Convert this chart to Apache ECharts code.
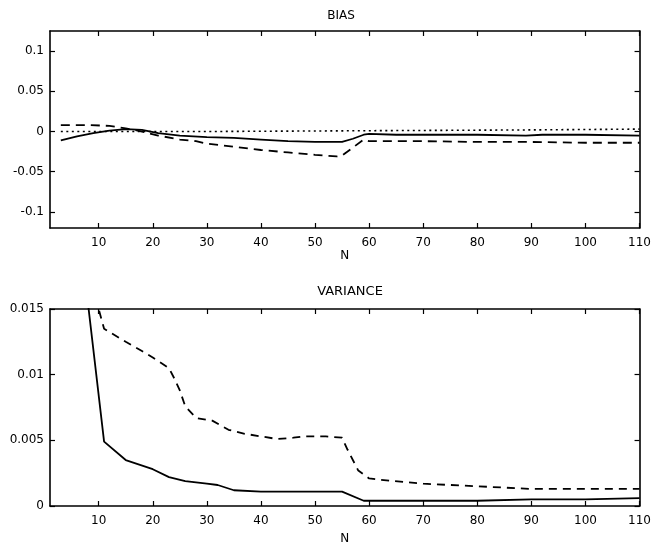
<!DOCTYPE html>
<html>
<head>
<meta charset="utf-8">
<script src="https://cdn.jsdelivr.net/npm/echarts@6/dist/echarts.min.js"></script>
<style>
html,body{margin:0;padding:0;background:#fff;}
#chart{width:654px;height:547px;}
</style>
</head>
<body>
<div id="chart"></div>
<script>
// ---- data ----
var xTicks = [10, 20, 30, 40, 50, 60, 70, 80, 90, 100, 110];
var biasTicks = [-0.1, -0.05, 0, 0.05, 0.1];
var biasTickLabels = ['-0.1', '-0.05', '0', '0.05', '0.1'];
var varTicks = [0, 0.005, 0.01, 0.015];
var varTickLabels = ['0', '0.005', '0.01', '0.015'];

var biasSolidN = [3, 6, 9, 12, 15, 18, 21, 25, 30, 35, 40, 45, 50, 55, 57, 59, 60, 65, 70, 80, 89, 92, 100, 110];
var biasSolid  = [-0.011, -0.006, -0.002, 0.001, 0.003, 0.002, -0.002, -0.005, -0.007, -0.008, -0.010, -0.012, -0.013, -0.013, -0.009, -0.004, -0.003, -0.004, -0.004, -0.004, -0.005, -0.004, -0.004, -0.005];

var biasDashN = [3, 8, 12, 15, 18, 21, 25, 28, 30, 35, 40, 45, 50, 54, 55, 57, 59, 60, 70, 80, 90, 100, 110];
var biasDash  = [0.008, 0.008, 0.007, 0.004, 0.000, -0.005, -0.010, -0.012, -0.015, -0.019, -0.023, -0.026, -0.029, -0.031, -0.030, -0.020, -0.010, -0.012, -0.012, -0.013, -0.013, -0.014, -0.014];

var biasDotN = [3, 30, 60, 90, 110];
var biasDot  = [0.000, 0.000, 0.001, 0.002, 0.003];

var varSolidN = [3, 6, 8, 11, 15, 20, 23, 26, 30, 32, 35, 40, 45, 50, 55, 59, 60, 70, 80, 90, 100, 110];
var varSolid  = [0.040, 0.026, 0.0155, 0.0049, 0.0035, 0.0028, 0.0022, 0.0019, 0.0017, 0.0016, 0.0012, 0.0011, 0.0011, 0.0011, 0.0011, 0.0004, 0.0004, 0.0004, 0.0004, 0.0005, 0.0005, 0.0006];

var varDashN = [3, 6, 8, 10, 11, 15, 18, 20, 23, 24, 25, 26, 28, 31, 34, 37, 40, 43, 46, 48, 52, 55, 56, 58, 60, 62, 70, 80, 90, 100, 110];
var varDash  = [0.024, 0.020, 0.017, 0.0150, 0.0135, 0.0125, 0.0118, 0.0113, 0.0105, 0.0097, 0.0088, 0.0076, 0.0067, 0.0065, 0.0058, 0.0055, 0.0053, 0.0051, 0.0052, 0.0053, 0.0053, 0.0052, 0.0043, 0.0027, 0.0021, 0.0020, 0.0017, 0.0015, 0.0013, 0.0013, 0.0013];

function zip(a, b) { return a.map(function (v, i) { return [v, b[i]]; }); }

var FONT = 'DejaVu Sans';
var INK = '#000';

function xAx(gi, pos, withLabel, nameGap) {
  return {
    type: 'value', gridIndex: gi, position: pos, min: 1, max: 110,
    name: withLabel ? 'N' : '', nameLocation: 'middle', nameGap: nameGap || 27,
    nameTextStyle: { fontFamily: FONT, fontSize: 12, color: INK },
    axisLine: { show: true, onZero: false, lineStyle: { color: INK, width: 1.6 } },
    axisTick: { show: true, inside: true, length: 5, customValues: xTicks, lineStyle: { color: INK, width: 1.2 } },
    axisLabel: { show: withLabel, customValues: xTicks, margin: 9, fontFamily: FONT, fontSize: 12, color: INK },
    splitLine: { show: false }
  };
}
function yAx(gi, pos, min, max, ticks, labels, withLabel) {
  return {
    type: 'value', gridIndex: gi, position: pos, min: min, max: max,
    axisLine: { show: true, onZero: false, lineStyle: { color: INK, width: 1.6 } },
    axisTick: { show: true, inside: true, length: 5, customValues: ticks, lineStyle: { color: INK, width: 1.2 } },
    axisLabel: {
      show: withLabel, customValues: ticks, margin: 6, fontFamily: FONT, fontSize: 12, color: INK,
      formatter: function (v) {
        for (var i = 0; i < ticks.length; i++) { if (Math.abs(ticks[i] - v) < 1e-9) return labels[i]; }
        return '';
      }
    },
    splitLine: { show: false }
  };
}
function line(xi, yi, data, type, w) {
  return {
    type: 'line', xAxisIndex: xi, yAxisIndex: yi, data: data, showSymbol: false, symbol: 'none',
    clip: true, silent: true,
    lineStyle: { color: INK, width: w, type: type }
  };
}

var chart = echarts.init(document.getElementById('chart'), null, { renderer: 'canvas' });
chart.setOption({
  backgroundColor: '#fff',
  animation: false,
  grid: [
    { left: 50, right: 9, top: 31, height: 197 },
    { left: 50, right: 9, top: 309, height: 197 }
  ],
  xAxis: [
    xAx(0, 'bottom', true, 21), xAx(0, 'top', false),
    xAx(1, 'bottom', true, 27), xAx(1, 'top', false)
  ],
  yAxis: [
    yAx(0, 'left', -0.12, 0.125, biasTicks, biasTickLabels, true),
    yAx(0, 'right', -0.12, 0.125, biasTicks, biasTickLabels, false),
    yAx(1, 'left', 0, 0.015, varTicks, varTickLabels, true),
    yAx(1, 'right', 0, 0.015, varTicks, varTickLabels, false)
  ],
  graphic: [
    { type: 'text', style: { text: 'BIAS', x: 341, y: 16, textAlign: 'center', textVerticalAlign: 'middle', font: '12px "DejaVu Sans"', fill: INK } },
    { type: 'text', style: { text: 'VARIANCE', x: 350, y: 292, textAlign: 'center', textVerticalAlign: 'middle', font: '13px "DejaVu Sans"', fill: INK } }
  ],
  series: [
    line(0, 0, zip(biasDotN, biasDot), [2, 3.5], 1.6),
    line(0, 0, zip(biasSolidN, biasSolid), 'solid', 1.8),
    line(0, 0, zip(biasDashN, biasDash), [9, 6], 1.8),
    line(2, 2, zip(varSolidN, varSolid), 'solid', 1.8),
    line(2, 2, zip(varDashN, varDash), [8, 6], 1.8)
  ]
});
</script>
</body>
</html>
